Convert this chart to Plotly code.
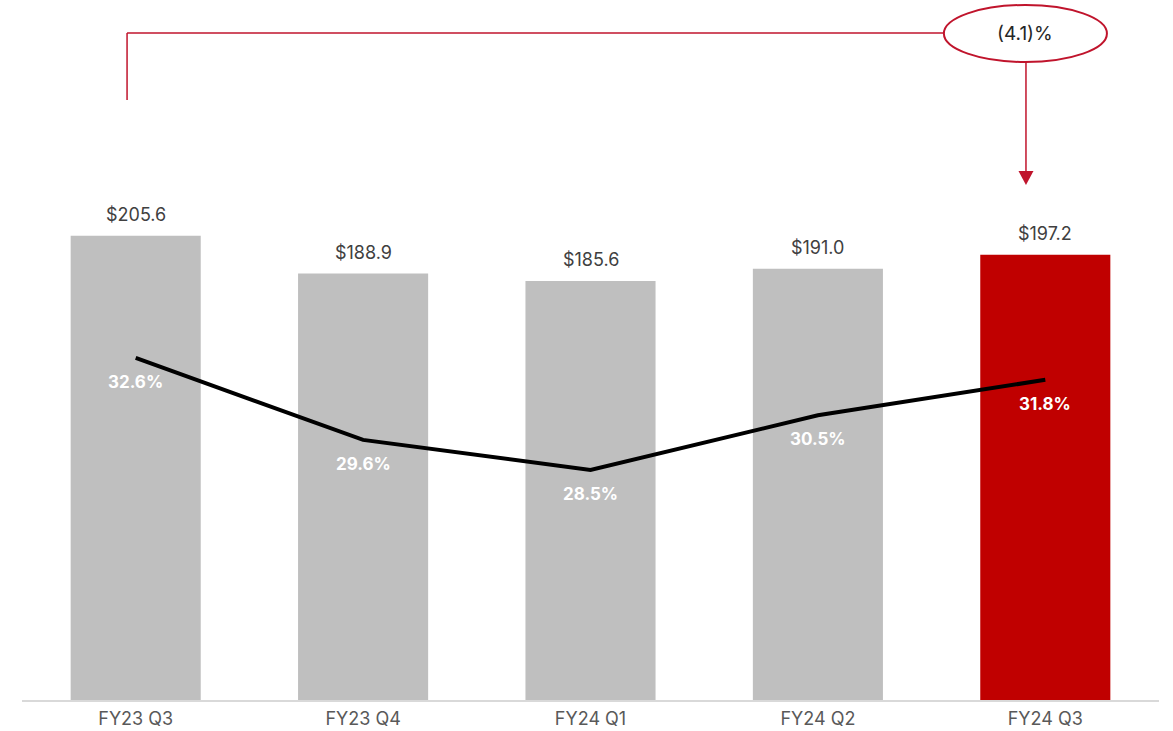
import plotly.graph_objects as go

# Quarterly revenue ($M) and margin (%)
quarters = ["FY23 Q3", "FY23 Q4", "FY24 Q1", "FY24 Q2", "FY24 Q3"]
revenue = [205.6, 188.9, 185.6, 191.0, 197.2]
margin_pct = [32.6, 29.6, 28.5, 30.5, 31.8]
change_label = "(4.1)%"

GRAY = "#bfbfbf"
RED = "#c00000"
ACCENT = "#c0142c"
FONT = "Inter"

bar_colors = [GRAY] * (len(quarters) - 1) + [RED]
idx = list(range(len(quarters)))

fig = go.Figure()

fig.add_trace(go.Bar(
    x=idx, y=revenue, width=0.572,
    marker=dict(color=bar_colors, line=dict(width=0)),
    hoverinfo="skip", showlegend=False,
))

fig.add_trace(go.Scatter(
    x=idx, y=margin_pct, yaxis="y2", mode="lines",
    line=dict(color="#000000", width=4),
    hoverinfo="skip", showlegend=False,
))

annotations = []
# Revenue labels above each bar
for i, v in zip(idx, revenue):
    annotations.append(dict(
        x=i, y=v, xref="x", yref="y", text=f"${v:.1f}",
        showarrow=False, yanchor="middle", yshift=21,
        font=dict(family=FONT, size=18, color="#404040"),
    ))
# Margin labels under each line point
for i, p in zip(idx, margin_pct):
    annotations.append(dict(
        x=i, y=p, xref="x", yref="y2", text=f"<b>{p:.1f}%</b>",
        showarrow=False, yanchor="middle", yshift=-24,
        font=dict(family=FONT, size=17, color="#ffffff"),
    ))

# Change callout: bracket from first bar to last bar with an ellipse label
Y_TOP = 310.0
px = Y_TOP / 700.0  # value units per pixel on the bar axis
first, last = idx[0], idx[-1]
x_left = first - 0.038
x_right = last - 0.085
x_ell0, x_ell1 = last - 0.446, last + 0.271
y_line = Y_TOP - 33 * px
y_left_end = Y_TOP - 100 * px
y_ell0, y_ell1 = Y_TOP - 62 * px, Y_TOP - 5 * px
y_arrow_base = Y_TOP - 171 * px
y_arrow_tip = Y_TOP - 185 * px
half_w = 7.5 / 227.4

shapes = [
    dict(type="line", xref="x", yref="y", x0=x_left, x1=x_left,
         y0=y_left_end, y1=y_line, line=dict(color=ACCENT, width=1.5)),
    dict(type="line", xref="x", yref="y", x0=x_left, x1=x_ell0,
         y0=y_line, y1=y_line, line=dict(color=ACCENT, width=1.5)),
    dict(type="circle", xref="x", yref="y", x0=x_ell0, x1=x_ell1,
         y0=y_ell0, y1=y_ell1, line=dict(color=ACCENT, width=2),
         fillcolor="rgba(255,255,255,0)"),
    dict(type="line", xref="x", yref="y", x0=x_right, x1=x_right,
         y0=y_ell0, y1=y_arrow_base, line=dict(color=ACCENT, width=1.5)),
    dict(type="path", xref="x", yref="y",
         path=(f"M {x_right - half_w} {y_arrow_base} L {x_right + half_w} {y_arrow_base} "
               f"L {x_right} {y_arrow_tip} Z"),
         fillcolor=ACCENT, line=dict(color=ACCENT, width=0)),
]

annotations.append(dict(
    x=(x_ell0 + x_ell1) / 2, y=(y_ell0 + y_ell1) / 2, xref="x", yref="y",
    text=change_label, showarrow=False,
    font=dict(family=FONT, size=19, color="#262626"),
))

fig.update_layout(
    width=1173, height=731,
    margin=dict(l=22, r=14, t=0, b=31),
    paper_bgcolor="#ffffff", plot_bgcolor="#ffffff",
    font=dict(family=FONT),
    bargap=0.43,
    xaxis=dict(
        range=[-0.5, 4.5], tickmode="array", tickvals=idx, ticktext=quarters,
        showgrid=False, zeroline=False, showline=True, linecolor="#d9d9d9",
        linewidth=1.5, ticks="outside", ticklen=2, tickcolor="rgba(0,0,0,0)",
        tickfont=dict(family=FONT, size=18, color="#595959"),
    ),
    yaxis=dict(range=[0, Y_TOP], visible=False, showgrid=False),
    yaxis2=dict(range=[20.08, 45.70], overlaying="y", visible=False, showgrid=False),
    shapes=shapes,
    annotations=annotations,
)

fig.write_html("out.html")
